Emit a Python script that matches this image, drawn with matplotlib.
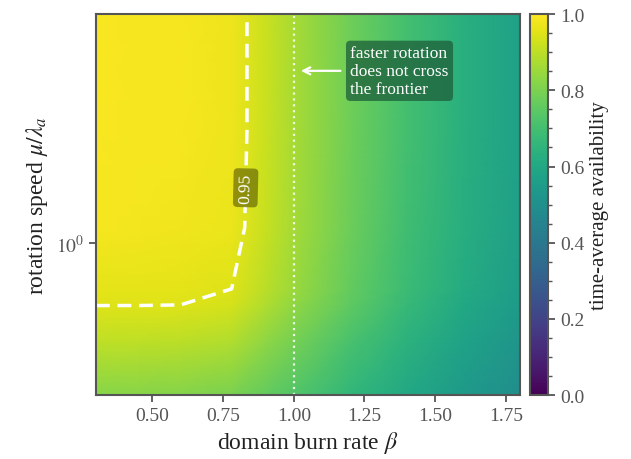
import numpy as np
import matplotlib
matplotlib.use("Agg")
import matplotlib.pyplot as plt
from matplotlib.ticker import FixedLocator, NullLocator, MultipleLocator

plt.rcParams['font.family'] = ['Liberation Serif', 'DejaVu Serif']
plt.rcParams['mathtext.fontset'] = 'stix'

# burn rate grid (beta) and rotation speed grid (mu / lambda_a)
beta = [0.3, 0.45, 0.6, 0.78, 0.9, 1.0, 1.2, 1.4, 1.6, 1.8]
rotation = [0.4, 0.55, 0.69, 0.76, 1.1, 2.0, 4.0]

# time-average availability, one row per rotation speed
avail_040 = [0.82, 0.82, 0.815, 0.80, 0.76, 0.73, 0.66, 0.60, 0.54, 0.49]
avail_055 = [0.90, 0.90, 0.895, 0.88, 0.83, 0.79, 0.71, 0.64, 0.575, 0.52]
avail_069 = [0.951, 0.951, 0.95, 0.935, 0.88, 0.835, 0.75, 0.67, 0.60, 0.545]
avail_076 = [0.96, 0.96, 0.958, 0.95, 0.895, 0.85, 0.76, 0.68, 0.61, 0.553]
avail_110 = [0.985, 0.983, 0.98, 0.972, 0.915, 0.865, 0.775, 0.695, 0.625, 0.565]
avail_200 = [0.99, 0.988, 0.985, 0.975, 0.92, 0.87, 0.78, 0.70, 0.63, 0.57]
avail_400 = [0.99, 0.988, 0.985, 0.975, 0.92, 0.87, 0.78, 0.70, 0.63, 0.57]

frontier_level = 0.95
beta_critical = 1.0
x_ticks = [0.50, 0.75, 1.00, 1.25, 1.50, 1.75]
note = "faster rotation\ndoes not cross\nthe frontier"

Z = np.array([avail_040, avail_055, avail_069, avail_076,
              avail_110, avail_200, avail_400])
X, Y = np.meshgrid(beta, rotation)

fig = plt.figure(figsize=(6.31, 4.60), dpi=100)
ax = fig.add_axes([0.152, 0.139, 0.672, 0.828])
cax = fig.add_axes([0.840, 0.139, 0.0285, 0.828])

mesh = ax.pcolormesh(X, Y, Z, cmap='viridis', vmin=0, vmax=1, shading='gouraud')
ax.set_yscale('log')
ax.set_xlim(0.3, 1.8)
ax.set_ylim(0.4, 4.0)

# the 0.95 frontier
cs = ax.contour(X, Y, Z, levels=[frontier_level], colors='white',
                linewidths=2.5, linestyles='--')
cs.set_dashes([(0, (4, 2.2))])
labels = ax.clabel(cs, fmt='%.2f', fontsize=12.5, inline=True,
                   manual=[(0.835, 1.4)])
for t in labels:
    t.set_color('white')
    t.set_bbox(dict(boxstyle='round,pad=0.25', fc='#4a4a00', alpha=0.55, ec='none'))

ax.axvline(beta_critical, color='white', linestyle=':', linewidth=1.6, alpha=0.85)

ax.annotate(note, xy=(1.025, 2.84), xytext=(1.2, 2.84),
            ha='left', va='center', color='white', fontsize=12.5,
            linespacing=1.15,
            bbox=dict(boxstyle='round,pad=0.25', fc='#1d5e3a', alpha=0.75, ec='none'),
            arrowprops=dict(arrowstyle='->', color='white', lw=1.6,
                            shrinkA=4, shrinkB=0))

ax.set_xticks(x_ticks)
ax.set_xticklabels([f"{v:.2f}" for v in x_ticks])
ax.yaxis.set_major_locator(FixedLocator([1.0]))
ax.yaxis.set_minor_locator(NullLocator())
ax.set_yticklabels([r'$10^0$'])

ax.set_xlabel(r'domain burn rate $\beta$', fontsize=17, color='#222222')
ax.set_ylabel(r'rotation speed $\mu/\lambda_a$', fontsize=17, color='#222222')

for a in [ax, cax]:
    for s in a.spines.values():
        s.set_color('#555555')
        s.set_linewidth(1.5)
    a.tick_params(colors='#555555', labelsize=14, length=5, width=1.3,
                  direction='out')
    a.tick_params(which='minor', colors='#555555', length=3, width=1.0)

cb = fig.colorbar(mesh, cax=cax)
cb.outline.set_edgecolor('#555555')
cb.outline.set_linewidth(1.5)
cb.set_ticks([0.0, 0.2, 0.4, 0.6, 0.8, 1.0])
cb.ax.yaxis.set_minor_locator(MultipleLocator(0.05))
cb.ax.tick_params(colors='#555555', labelsize=14, length=5, width=1.3)
cb.ax.tick_params(which='minor', colors='#555555', length=3, width=1.0)
cb.set_label('time-average availability', fontsize=15, color='#222222')

fig.savefig('out.png', dpi=100)
